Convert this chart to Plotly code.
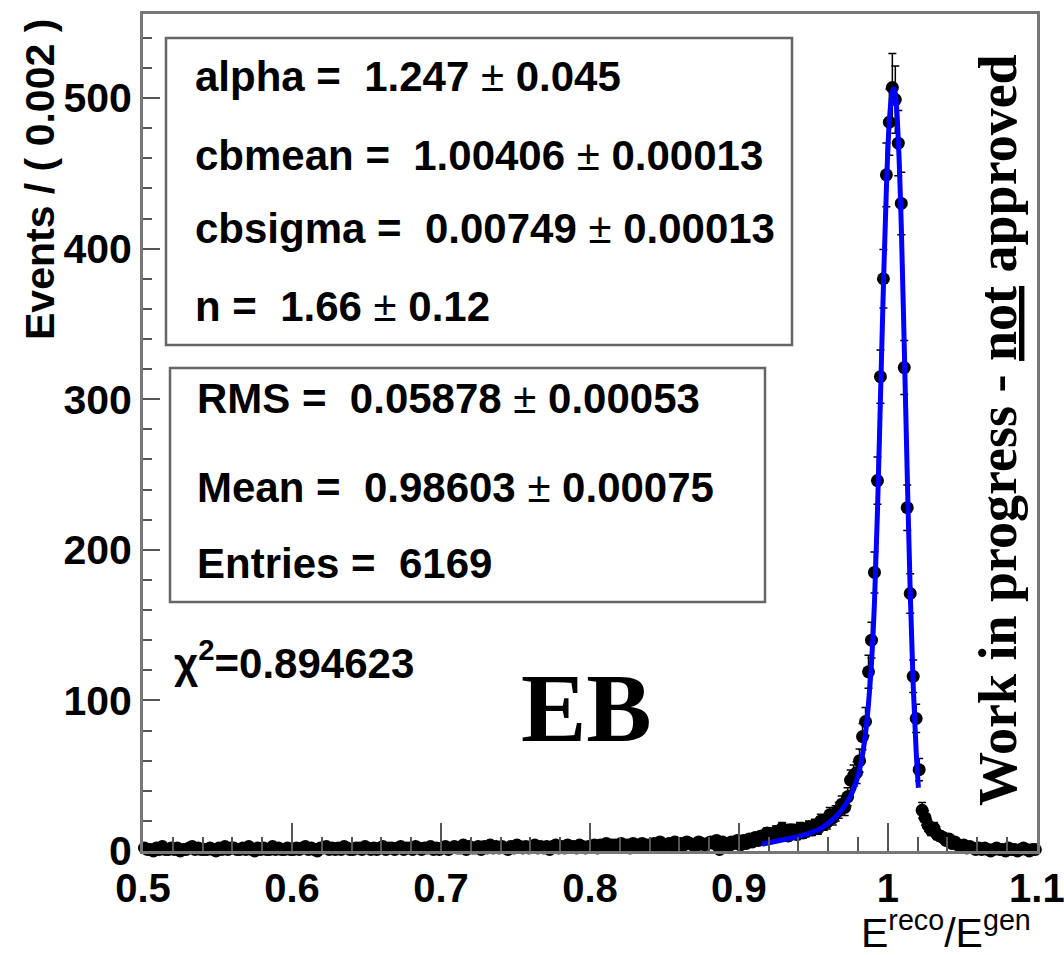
import plotly.graph_objects as go
import numpy as np

# ---------------- data ----------------
bin_start = 0.5
bin_width = 0.002

counts_050_060 = [2,1,1,0,2,1,3,1,1,2, 1,2,0,1,1,2,3,1,2,1, 1,1,2,1,0,2,1,3,1,2,
                  2,1,1,2,1,3,1,0,2,1, 2,1,1,3,1,2,1,1,2,1]
counts_060_070 = [1,2,1,2,3,1,2,1,0,2, 2,3,1,2,1,2,1,3,2,1, 1,2,2,1,3,2,1,2,1,2,
                  3,1,2,2,1,2,3,1,2,2, 1,3,2,1,2,2,3,1,2,1]
counts_070_080 = [2,3,1,2,3,2,2,4,1,3, 2,2,3,1,3,2,4,2,3,2, 3,2,1,3,2,4,3,2,3,2,
                  3,4,2,3,2,3,1,3,4,2, 3,2,4,3,3,2,4,3,2,3]
counts_080_090 = [3,4,2,4,3,5,3,4,4,3, 5,3,4,2,5,4,3,5,4,4, 3,5,4,6,3,4,5,4,6,3,
                  5,4,6,5,4,3,6,5,4,5, 6,5,7,1,6,5,3,6,5,7]
counts_090_100 = [4,7,5,8,6,9,7,10,8,12, 9,10,13,11,15,12,10,14,13,11,
                  15,12,13,16,14,17,15,20,18,19, 24,22,25,27,31,29,36,47,50,52,
                  60,76,86,119,140,185,246,315,380,449]
counts_100_110 = [484,507,499,470,430,321,228,171,116,88, 54,27,22,17,14,15,11,10,9,7,
                  8,5,6,4,3,4,2,3,2,1, 2,1,2,1,0,1,2,1,1,0, 2,1,1,0,1,2,1,0,1,1]

# fitted Crystal-Ball curve
fit_x = [0.9155, 0.925, 0.935, 0.945, 0.955, 0.962, 0.968, 0.973, 0.977, 0.980,
         0.983, 0.985, 0.987, 0.989, 0.991, 0.993, 0.995, 0.997, 0.999, 1.001,
         1.003, 1.004, 1.005, 1.007, 1.009, 1.011, 1.013, 1.015, 1.017, 1.019, 1.0205]
fit_y = [4.5, 6.5, 8.5, 11, 15, 20, 26, 33, 41, 50,
         64, 78, 98, 125, 165, 225, 300, 375, 440, 485,
         504, 506, 503, 472, 415, 335, 250, 172, 110, 66, 42]

x_ticks = [0.5, 0.6, 0.7, 0.8, 0.9, 1.0, 1.1]
x_tick_text = ["0.5", "0.6", "0.7", "0.8", "0.9", "1", "1.1"]
y_ticks = [0, 100, 200, 300, 400, 500]

stats_fit = ["alpha =\u00a0\u00a01.247", "0.045",
             "cbmean =\u00a0\u00a01.00406", "0.00013",
             "cbsigma =\u00a0\u00a00.00749", "0.00013",
             "n =\u00a0\u00a01.66", "0.12"]
stats_hist = ["RMS =\u00a0\u00a00.05878", "0.00053",
              "Mean =\u00a0\u00a00.98603", "0.00075"]
entries_text = "Entries =\u00a0\u00a06169"
chi2_text = "\u03c7<sup>2</sup>=0.894623"

# ---------------- build ----------------
counts = np.array(counts_050_060 + counts_060_070 + counts_070_080 +
                  counts_080_090 + counts_090_100 + counts_100_110, dtype=float)
centers = bin_start + bin_width * (np.arange(len(counts)) + 0.5)
errors = np.sqrt(counts)

W, H = 1064, 955
L, R, T, B = 143, 27, 14, 104
pw, ph = W - L - R, H - T - B


def px(x):
    return (x - L) / pw


def py(y):
    return (H - B - y) / ph


fig = go.Figure()
fig.add_trace(go.Scatter(
    x=centers, y=counts, mode="markers",
    marker=dict(color="black", size=13),
    error_y=dict(type="data", array=errors, color="black", thickness=1.5, width=4),
    cliponaxis=False, hoverinfo="skip"))
fig.add_trace(go.Scatter(
    x=fit_x, y=fit_y, mode="lines",
    line=dict(color="#0000ff", width=5, shape="spline"),
    hoverinfo="skip"))

sans = "Liberation Sans, Arial, sans-serif"
serif = "Liberation Serif, Times New Roman, serif"

shapes = [
    dict(type="rect", xref="paper", yref="paper", x0=px(166), x1=px(792), y0=py(345), y1=py(38),
         line=dict(color="#666666", width=2.5), fillcolor="white"),
    dict(type="rect", xref="paper", yref="paper", x0=px(170), x1=px(765), y0=py(602), y1=py(368),
         line=dict(color="#666666", width=2.5), fillcolor="white"),
]

ann = []
fit_rows = [76, 156, 229, 306]
for k, yy in enumerate(fit_rows):
    ann.append(dict(xref="paper", yref="paper", x=px(193), y=py(yy), xanchor="left", yanchor="middle",
                    text="<b>%s</b> \u00b1 <b>%s</b>" % (stats_fit[2 * k], stats_fit[2 * k + 1]),
                    showarrow=False, font=dict(family=sans, size=42, color="black")))
hist_rows = [398, 487, 563]
for k in range(2):
    ann.append(dict(xref="paper", yref="paper", x=px(195), y=py(hist_rows[k]), xanchor="left", yanchor="middle",
                    text="<b>%s</b> \u00b1 <b>%s</b>" % (stats_hist[2 * k], stats_hist[2 * k + 1]),
                    showarrow=False, font=dict(family=sans, size=42, color="black")))
ann.append(dict(xref="paper", yref="paper", x=px(195), y=py(hist_rows[2]), xanchor="left", yanchor="middle",
                text="<b>%s</b>" % entries_text, showarrow=False,
                font=dict(family=sans, size=42, color="black")))
ann.append(dict(xref="paper", yref="paper", x=px(172), y=py(660), xanchor="left", yanchor="middle",
                text="<b>%s</b>" % chi2_text, showarrow=False,
                font=dict(family=sans, size=42, color="black")))
ann.append(dict(xref="paper", yref="paper", x=px(586), y=py(708), xanchor="center", yanchor="middle",
                text="<b>EB</b>", showarrow=False, font=dict(family=serif, size=98, color="black")))
ann.append(dict(xref="paper", yref="paper", x=px(998), y=py(430), xanchor="center", yanchor="middle",
                text="<b>Work in progress - <u>not</u> approved</b>", textangle=-90, showarrow=False,
                font=dict(family=serif, size=54, color="black")))
ann.append(dict(xref="paper", yref="paper", x=px(40), y=py(180), xanchor="center", yanchor="middle",
                text="<b>Events / ( 0.002 )</b>", textangle=-90, showarrow=False,
                font=dict(family=sans, size=41, color="black")))
ann.append(dict(xref="paper", yref="paper", x=px(1033), y=py(930), xanchor="right", yanchor="middle",
                text="E<sup>reco</sup>/E<sup>gen</sup>", showarrow=False,
                font=dict(family=sans, size=41, color="black")))

fig.update_layout(
    width=W, height=H, margin=dict(l=L, r=R, t=T, b=B, pad=0, autoexpand=False),
    paper_bgcolor="white", plot_bgcolor="white", showlegend=False,
    shapes=shapes, annotations=ann,
    xaxis=dict(range=[0.5, 1.1001], tickmode="array", tickvals=x_ticks, ticktext=x_tick_text,
               ticks="inside", ticklen=28, tickwidth=2, tickcolor="#555555",
               ticklabeloverflow="allow", automargin=False,
               minor=dict(tickmode="linear", tick0=0.5, dtick=0.02, ticks="inside", ticklen=14,
                          tickwidth=1.5, tickcolor="#555555", showgrid=False),
               showgrid=False, zeroline=False, showline=True, linecolor="#777777", linewidth=3, mirror=True,
               tickfont=dict(family=sans, size=40, color="black", weight="bold")),
    yaxis=dict(range=[0, 555.8], tickmode="array", tickvals=y_ticks, automargin=False,
               ticks="inside", ticklen=17, tickwidth=2, tickcolor="#555555",
               minor=dict(tickmode="linear", tick0=0, dtick=20, ticks="inside", ticklen=9,
                          tickwidth=1.5, tickcolor="#555555", showgrid=False),
               showgrid=False, zeroline=False, showline=True, linecolor="#777777", linewidth=3, mirror=True,
               tickfont=dict(family=sans, size=41, color="black", weight="bold")),
)

fig.write_html("out.html")
